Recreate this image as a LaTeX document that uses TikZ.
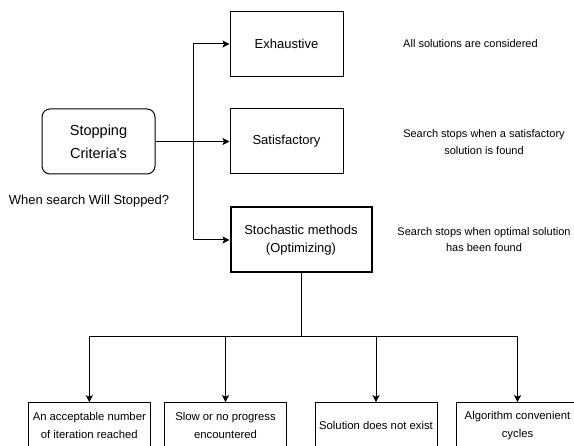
\documentclass[tikz,border=0pt]{standalone}
\usepackage{fontspec}
\setmainfont{Liberation Sans}
\usetikzlibrary{arrows.meta}

\tikzset{
  box/.style={draw=black, line width=1pt, fill=white, align=center, inner sep=0pt},
  mainbox/.style={box, minimum width=113pt, minimum height=65pt,
    font=\fontsize{13}{17.5}\selectfont},
  leafbox/.style={box, minimum width=122pt, minimum height=46pt,
    font=\fontsize{11.3}{18}\selectfont},
  note/.style={align=center, inner sep=0pt, font=\fontsize{11}{16.7}\selectfont},
  arr/.style={line width=1pt, -{Stealth[length=7pt,width=7pt,inset=1.5pt]}},
  link/.style={line width=1pt}
}

\begin{document}
\begin{tikzpicture}[x=1pt,y=-1pt]
  \clip (0,0) rectangle (574,446);
  \fill[white] (0,0) rectangle (574,446);

  % root of the decision
  \node[box, rounded corners=8pt, minimum width=113pt, minimum height=65pt,
        font=\fontsize{14.5}{23}\selectfont] (stop) at (98.5,141.5) {Stopping\\Criteria\textquotesingle s};
  \node[inner sep=0pt, font=\fontsize{13}{16}\selectfont] (when) at (89,201) {When search Will Stopped?};

  % three stopping strategies
  \node[mainbox] (exh) at (286.5,44) {Exhaustive};
  \node[mainbox] (sat) at (286.5,141.5) {Satisfactory};
  \node[mainbox, line width=2pt, minimum width=141pt, minimum height=65pt] (sto) at (301,240)
        {Stochastic methods\\(Optimizing)};

  % explanations
  \node[note] (nexh) at (470.5,44) {All solutions are considered};
  \node[note] (nsat) at (484,142.3) {Search stops when a satisfactory\\solution is found};
  \node[note] (nsto) at (484,239.5) {Search stops when optimal solution\\has been found};

  % reasons a stochastic search ends
  \node[leafbox] (b1) at (89.3,425.7) {An acceptable number\\of iteration reached};
  \node[leafbox] (b2) at (225.5,425.7) {Slow or no progress\\encountered};
  \node[leafbox] (b3) at (376,425.7) {Solution does not exist};
  \node[leafbox] (b4) at (517.5,425.7) {Algorithm convenient\\cycles};

  % connectors
  \coordinate (fork) at (193,141.5);
  \coordinate (bus) at (301,337);
  \draw[arr] (stop) -- (sat);
  \draw[arr] (fork) |- (exh);
  \draw[arr] (fork) |- (sto);
  \draw[link] (sto) -- (bus);
  \draw[arr] (bus) -| (b1);
  \draw[arr] (bus) -| (b2);
  \draw[arr] (bus) -| (b3);
  \draw[arr] (bus) -| (b4);
\end{tikzpicture}
\end{document}
